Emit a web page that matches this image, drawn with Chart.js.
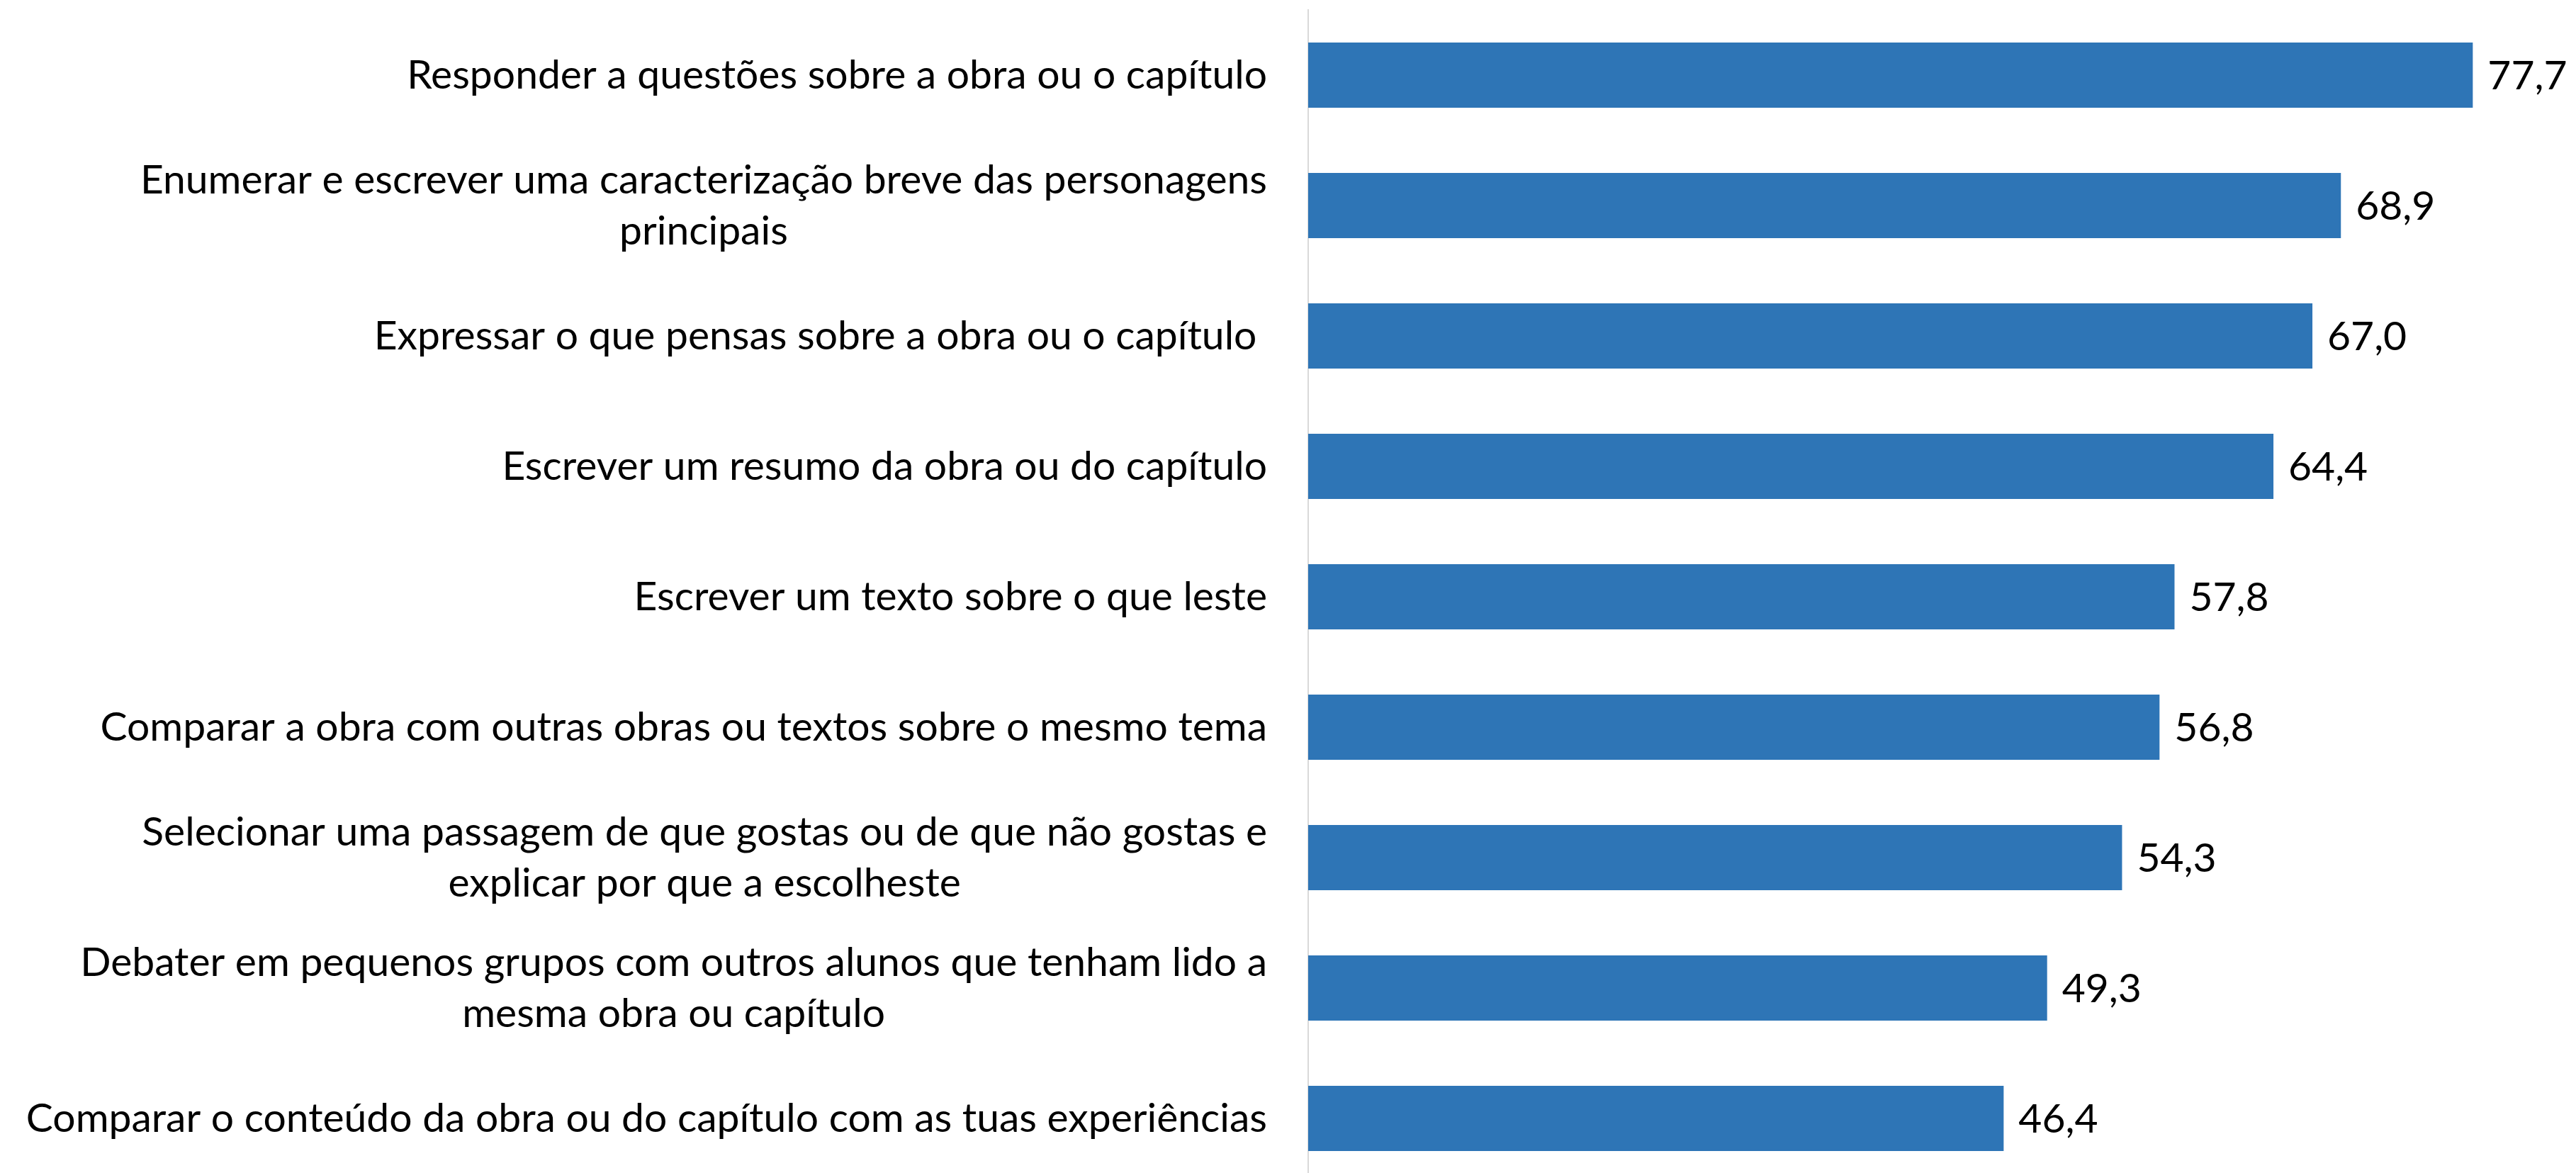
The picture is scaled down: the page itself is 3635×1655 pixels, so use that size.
<!DOCTYPE html>
<html>
<head>
<meta charset="utf-8">
<script src="https://cdn.jsdelivr.net/npm/chart.js@4/dist/chart.umd.min.js"></script>
<style>
  html, body { margin: 0; padding: 0; background: #ffffff; overflow: hidden; }
  #wrap { width: 3635px; height: 1670px; position: relative; }
</style>
</head>
<body>
<div id="wrap"><canvas id="c"></canvas></div>
<script>
const categories = [
  "Responder a questões sobre a obra ou o capítulo",
  ["Enumerar e escrever uma caracterização breve das personagens", "principais"],
  "Expressar o que pensas sobre a obra ou o capítulo ",
  "Escrever um resumo da obra ou do capítulo",
  "Escrever um texto sobre o que leste",
  "Comparar a obra com outras obras ou textos sobre o mesmo tema",
  ["Selecionar uma passagem de que gostas ou de que não gostas e", "explicar por que a escolheste"],
  ["Debater em pequenos grupos com outros alunos que tenham lido a", "mesma obra ou capítulo"],
  "Comparar o conteúdo da obra ou do capítulo com as tuas experiências"
];
const values = [77.7, 68.9, 67.0, 64.4, 57.8, 56.8, 54.3, 49.3, 46.4];

const FONT = "Lato";
const FONT_SIZE = 57;
const LINE_H = 72;
const LABEL_GAP = 58;

// Category labels: block right-aligned to the axis, lines centred within the block
const categoryLabels = {
  id: 'categoryLabels',
  afterDraw(chart) {
    const ctx = chart.ctx;
    const yScale = chart.scales.y;
    const right = chart.chartArea.left - LABEL_GAP;
    ctx.save();
    ctx.font = FONT_SIZE + "px " + FONT;
    ctx.fillStyle = "#000000";
    ctx.textAlign = "center";
    ctx.textBaseline = "middle";
    chart.data.labels.forEach((lab, i) => {
      const lines = Array.isArray(lab) ? lab : [lab];
      const w = Math.max(...lines.map(l => ctx.measureText(l).width));
      const cx = right - w / 2;
      const cy = yScale.getPixelForTick(i);
      const y0 = cy - (lines.length - 1) * LINE_H / 2;
      lines.forEach((l, k) => ctx.fillText(l, cx, y0 + k * LINE_H + 1));
    });
    ctx.restore();
  }
};

const valueLabels = {
  id: 'valueLabels',
  afterDatasetsDraw(chart) {
    const ctx = chart.ctx;
    const meta = chart.getDatasetMeta(0);
    ctx.save();
    ctx.font = FONT_SIZE + "px " + FONT;
    ctx.fillStyle = "#000000";
    ctx.textAlign = "left";
    ctx.textBaseline = "middle";
    meta.data.forEach((bar, i) => {
      const txt = values[i].toFixed(1).replace('.', ',');
      ctx.fillText(txt, bar.x + 21, bar.y + 2);
    });
    ctx.restore();
  }
};

new Chart(document.getElementById('c'), {
  type: 'bar',
  data: {
    labels: categories,
    datasets: [{
      data: values,
      backgroundColor: '#2E75B6',
      borderWidth: 0,
      barPercentage: 0.5,
      categoryPercentage: 1.0
    }]
  },
  options: {
    indexAxis: 'y',
    responsive: true,
    maintainAspectRatio: false,
    animation: false,
    events: [],
    layout: { padding: { top: 14, right: 97, bottom: 0, left: 0 } },
    plugins: {
      legend: { display: false },
      tooltip: { enabled: false }
    },
    scales: {
      x: {
        min: 0,
        max: 80,
        display: false,
        grid: { display: false }
      },
      y: {
        grid: { display: false, drawTicks: false },
        border: { display: true, color: '#d9d9d9', width: 2 },
        ticks: { display: false, autoSkip: false },
        afterFit(scale) {
          scale.width = 1846;
          scale.paddingTop = 0;
          scale.paddingBottom = 0;
        }
      }
    }
  },
  plugins: [valueLabels, categoryLabels]
});
</script>
</body>
</html>
